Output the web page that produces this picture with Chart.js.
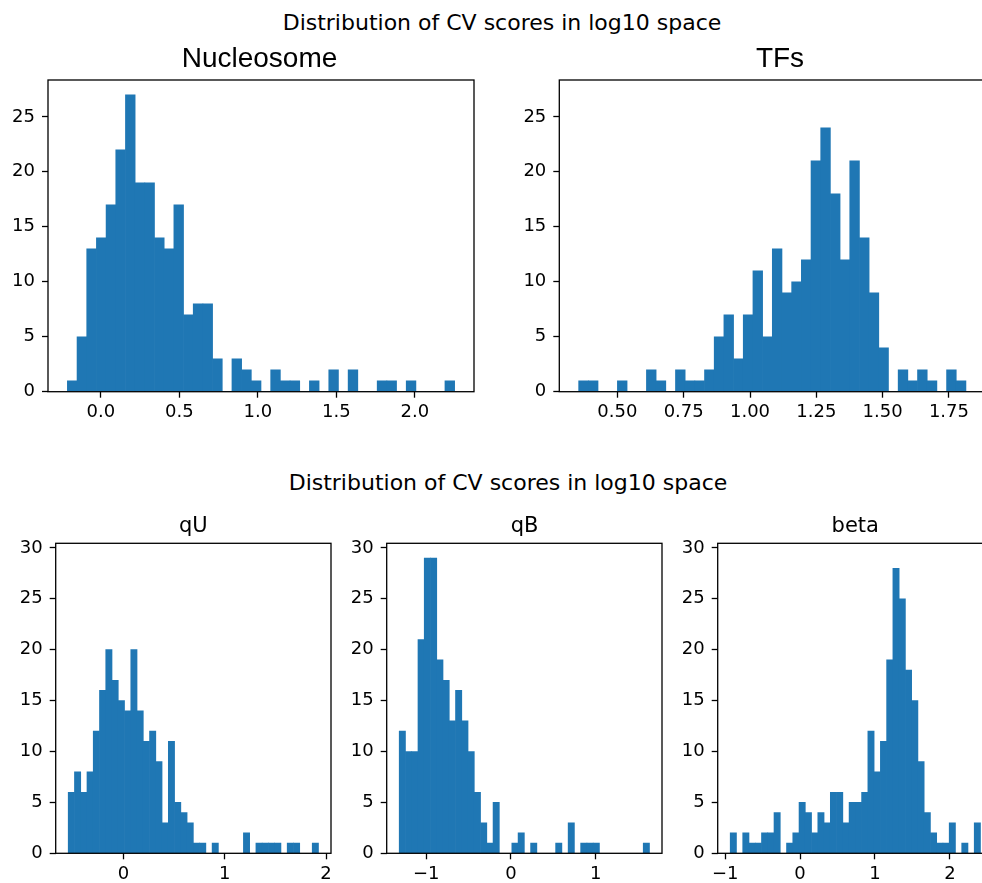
<!DOCTYPE html>
<html>
<head>
<meta charset="utf-8">
<script src="https://cdn.jsdelivr.net/npm/chart.js@4.4.1/dist/chart.umd.min.js"></script>
<style>
    html, body { margin: 0; padding: 0; background: #fff; overflow: hidden; width: 982px; height: 883px; }
    .panel { position: absolute; }
    .suptitle { position: absolute; font-family: 'DejaVu Sans'; font-size: 22px; line-height: 22px; color: #000; white-space: nowrap; transform: translateX(-50%); }
</style>
</head>
<body>
<div class="suptitle" style="left:502px; top:12px;">Distribution of CV scores in log10 space</div>
<div class="suptitle" style="left:508px; top:472px;">Distribution of CV scores in log10 space</div>
<div class="panel" id="nucPanel"><canvas id="nucChart"></canvas></div>
<div class="panel" id="tfPanel"><canvas id="tfChart"></canvas></div>
<div class="panel" id="qUPanel"><canvas id="qUChart"></canvas></div>
<div class="panel" id="qBPanel"><canvas id="qBChart"></canvas></div>
<div class="panel" id="betaPanel"><canvas id="betaChart"></canvas></div>
<script>
    // 40 bins per histogram, outer bin edges
    var nucCounts = [1, 5, 13, 14, 17, 22, 27, 19, 19, 14, 13, 17, 7, 8, 8, 3, 0, 3, 2, 1,
                     0, 2, 1, 1, 0, 1, 0, 2, 0, 2, 0, 0, 1, 1, 0, 1, 0, 0, 0, 1];
    var nucRange = [-0.213, 2.253];
    var nucXTicks = [0, 0.5, 1, 1.5, 2];

    var tfCounts = [1, 1, 0, 0, 1, 0, 0, 2, 1, 0, 2, 1, 1, 2, 5, 7, 3, 7, 11, 5,
                    13, 9, 10, 12, 21, 24, 18, 12, 21, 14, 9, 4, 0, 2, 1, 2, 1, 0, 2, 1];
    var tfRange = [0.354, 1.814];
    var tfXTicks = [0.5, 0.75, 1, 1.25, 1.5, 1.75];

    var qUCounts = [6, 8, 6, 8, 12, 16, 20, 17, 15, 14, 20, 14, 11, 12, 9, 3, 11, 5, 4, 3,
                    1, 1, 0, 1, 0, 0, 0, 0, 2, 0, 1, 1, 1, 1, 0, 1, 1, 0, 0, 1];
    var qURange = [-0.544, 1.925];
    var qUXTicks = [0, 1, 2];

    var qBCounts = [12, 10, 10, 21, 29, 29, 19, 17, 13, 16, 13, 10, 6, 3, 1, 5, 0, 0, 1, 2,
                    0, 1, 0, 0, 0, 1, 0, 3, 0, 1, 1, 1, 0, 0, 0, 0, 0, 0, 0, 1];
    var qBRange = [-1.318, 1.635];
    var qBXTicks = [-1, 0, 1];

    var betaCounts = [2, 0, 2, 1, 1, 2, 2, 4, 0, 1, 2, 5, 4, 2, 4, 3, 6, 6, 3, 5,
                      5, 6, 12, 8, 11, 19, 28, 25, 18, 15, 9, 4, 2, 1, 1, 3, 0, 1, 0, 3];
    var betaRange = [-0.933, 2.409];
    var betaXTicks = [-1, 0, 1, 2];

    var topYTicks = [0, 5, 10, 15, 20, 25];
    var bottomYTicks = [0, 5, 10, 15, 20, 25, 30];

    var BAR_COLOR = '#1f77b4';
    var YW = 48, XH = 40, PAD_TOP = 60, PAD_R = 14;

    Chart.defaults.font.family = 'DejaVu Sans';
    Chart.defaults.font.size = 18;
    Chart.defaults.color = '#000';

    // title text and the box round the plot area
    var panelDeco = {
        id: 'panelDeco',
        afterDraw: function (chart, args, opts) {
            var ctx = chart.ctx;
            var a = chart.chartArea;
            ctx.save();
            ctx.strokeStyle = '#000';
            ctx.lineWidth = 1.3;
            ctx.strokeRect(a.left, a.top, a.right - a.left, a.bottom - a.top);
            ctx.font = opts.font;
            ctx.fillStyle = '#000';
            ctx.textAlign = 'center';
            ctx.textBaseline = 'alphabetic';
            ctx.fillText(opts.text, opts.x, opts.y);
            ctx.restore();
        }
    };

    function tickText(v, digits) {
        return v.toFixed(digits).replace('-', '\u2212');
    }

    function makeHist(name, counts, range, xTicks, yTicks, yMax, digits, area, title) {
        var w = (range[1] - range[0]) / counts.length;
        var points = counts.map(function (c, i) {
            return { x: range[0] + (i + 0.5) * w, y: c };
        });
        var margin = 0.05 * (range[1] - range[0]);

        var x0 = area.left - YW, y0 = area.top - PAD_TOP;
        var divLeft = Math.floor(x0), divTop = Math.floor(y0);
        var padL = x0 - divLeft, padT = y0 - divTop + PAD_TOP;
        var cw = Math.ceil(padL + YW + area.width + PAD_R);
        var ch = Math.ceil(padT + area.height + XH);
        var padR = cw - (padL + YW + area.width);
        var padB = ch - (padT + area.height + XH);

        var div = document.getElementById(name + 'Panel');
        div.style.left = divLeft + 'px';
        div.style.top = divTop + 'px';
        var canvas = document.getElementById(name + 'Chart');
        canvas.width = cw;
        canvas.height = ch;

        return new Chart(canvas.getContext('2d'), {
            type: 'bar',
            data: {
                datasets: [{
                    data: points,
                    backgroundColor: BAR_COLOR,
                    borderWidth: 0,
                    barPercentage: 1.0,
                    categoryPercentage: 1.0
                }]
            },
            options: {
                responsive: false,
                animation: false,
                layout: { padding: { left: padL, top: padT, right: padR, bottom: padB } },
                plugins: {
                    legend: { display: false },
                    tooltip: { enabled: false },
                    title: { display: false },
                    panelDeco: { text: title.text, font: title.font, x: title.x - divLeft, y: title.y - divTop }
                },
                scales: {
                    x: {
                        type: 'linear',
                        offset: false,
                        min: range[0] - margin,
                        max: range[1] + margin,
                        afterBuildTicks: function (s) {
                            s.ticks = xTicks.map(function (v) { return { value: v }; });
                        },
                        afterFit: function (s) { s.height = XH; },
                        border: { display: false },
                        grid: { offset: false, drawOnChartArea: false, drawTicks: true, tickLength: 6, tickColor: '#000', tickWidth: 1.3 },
                        ticks: {
                            autoSkip: false, maxRotation: 0, minRotation: 0, padding: 4,
                            callback: function (v) { return tickText(v, digits); }
                        }
                    },
                    y: {
                        min: 0,
                        max: yMax,
                        afterBuildTicks: function (s) {
                            s.ticks = yTicks.map(function (v) { return { value: v }; });
                        },
                        afterFit: function (s) { s.width = YW; },
                        border: { display: false },
                        grid: { drawOnChartArea: false, drawTicks: true, tickLength: 6, tickColor: '#000', tickWidth: 1.3 },
                        ticks: {
                            autoSkip: false, padding: 7,
                            callback: function (v) { return String(v); }
                        }
                    }
                }
            },
            plugins: [panelDeco]
        });
    }

    var topYMax = 1.05 * Math.max(Math.max.apply(null, nucCounts), Math.max.apply(null, tfCounts));
    var bottomYMax = 1.05 * Math.max(Math.max.apply(null, qUCounts), Math.max.apply(null, qBCounts), Math.max.apply(null, betaCounts));

    var nucChart = makeHist('nuc', nucCounts, nucRange, nucXTicks, topYTicks, topYMax, 1,
        { left: 48, top: 80, width: 426, height: 311.7 },
        { text: 'Nucleosome', x: 259.5, y: 67, font: '28px "Liberation Sans"' });

    var tfChart = makeHist('tf', tfCounts, tfRange, tfXTicks, topYTicks, topYMax, 2,
        { left: 559.3, top: 80, width: 426, height: 311.7 },
        { text: 'TFs', x: 780, y: 67, font: '28px "Liberation Sans"' });

    var qUChart = makeHist('qU', qUCounts, qURange, qUXTicks, bottomYTicks, bottomYMax, 0,
        { left: 55.7, top: 543.3, width: 275.3, height: 310 },
        { text: 'qU', x: 193.3, y: 531.7, font: '21px "DejaVu Sans"' });

    var qBChart = makeHist('qB', qBCounts, qBRange, qBXTicks, bottomYTicks, bottomYMax, 0,
        { left: 386.7, top: 543.3, width: 275.3, height: 310 },
        { text: 'qB', x: 524.5, y: 531.7, font: '21px "DejaVu Sans"' });

    var betaChart = makeHist('beta', betaCounts, betaRange, betaXTicks, bottomYTicks, bottomYMax, 0,
        { left: 717.7, top: 543.3, width: 275.3, height: 310 },
        { text: 'beta', x: 855.3, y: 531.7, font: '21px "DejaVu Sans"' });
</script>
</body>
</html>
